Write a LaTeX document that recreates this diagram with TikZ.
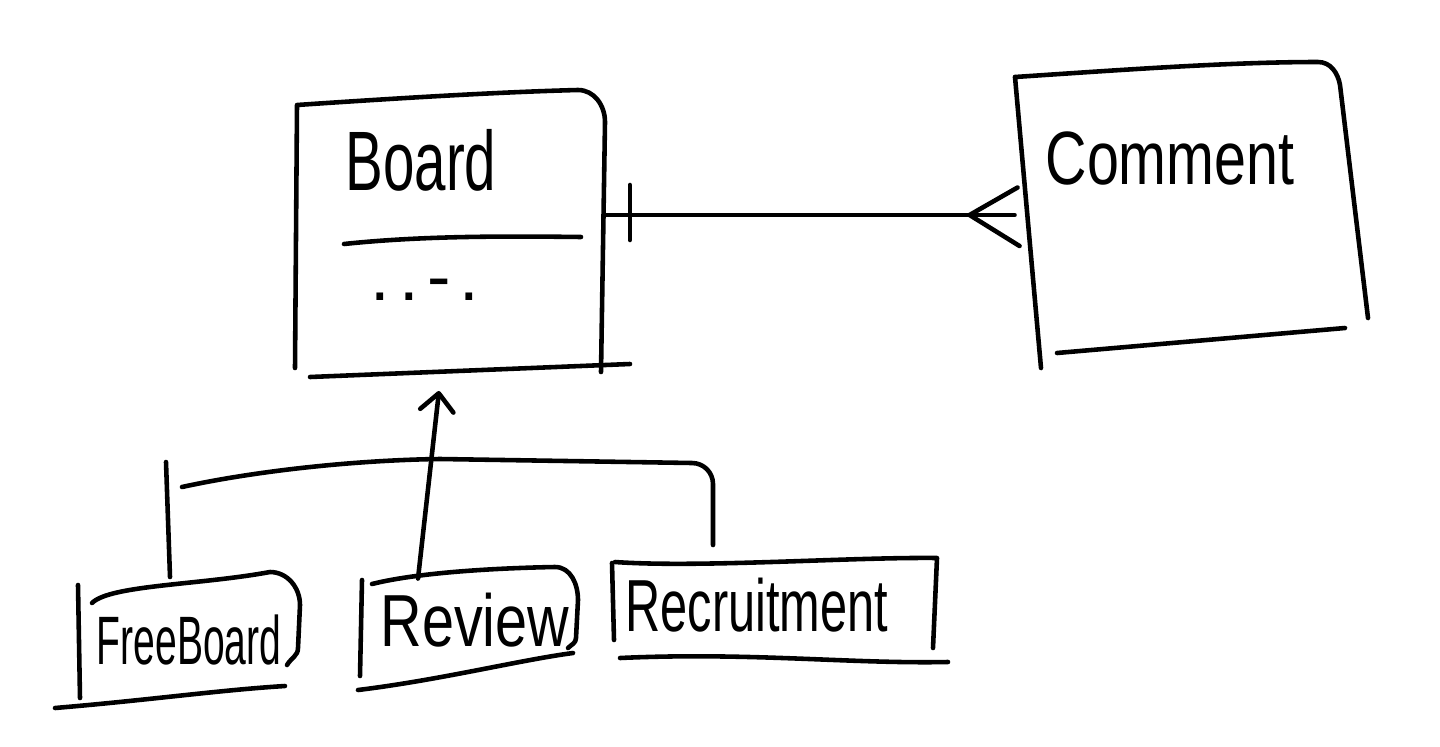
\documentclass[tikz,border=0pt]{standalone}
\usepackage{fontspec}
\usepackage{graphicx}
\setmainfont{Liberation Sans}
\usetikzlibrary{arrows.meta}
\begin{document}
\begin{tikzpicture}[x=0.02cm,y=-0.02cm,
  ink/.style={line width=2.6pt,line cap=round,line join=round},
  box/.style={inner sep=0pt,outer sep=0pt,draw=none},
  lbl/.style={inner sep=0pt,outer sep=0pt}]
\useasboundingbox[fill=white] (0,0) rectangle (1440,747);

% ---------- box nodes (outlines drawn as sketch strokes) ----------
\node[box,minimum width=6.16cm,minimum height=5.6cm] (board) at (451,232) {};
\node[box,minimum width=7.06cm,minimum height=6.12cm] (comment) at (1191,215) {};
\node[box,minimum width=4.44cm,minimum height=2.6cm] (freeboard) at (189,635) {};
\node[box,minimum width=4.36cm,minimum height=2.5cm] (review) at (469,628) {};
\node[box,minimum width=6.5cm,minimum height=2.08cm] (recruit) at (775,610) {};

% ---------- labels ----------
\node[lbl] (boardlbl) at (421,160) {\fontsize{48}{56}\selectfont\scalebox{0.67}[1]{Board}};
\node[lbl] (boardattr) at (425,290) {\fontsize{40}{48}\selectfont .\hspace{5pt}.\hspace{5pt}{-}\hspace{5pt}.};
\node[lbl] (commentlbl) at (1170,158) {\fontsize{43}{50}\selectfont\scalebox{0.76}[1]{Comment}};
\node[lbl] (freelbl) at (189,640) {\fontsize{39}{46}\selectfont\scalebox{0.57}[1]{FreeBoard}};
\node[lbl] (reviewlbl) at (475,620) {\fontsize{42}{50}\selectfont\scalebox{0.78}[1]{Review}};
\node[lbl] (recruitlbl) at (757,605) {\fontsize{42}{50}\selectfont\scalebox{0.66}[1]{Recruitment}};

% ---------- Board outline ----------
\draw[ink] (295,368) -- (297,105) .. controls (400,98) and (500,92) .. (578,90)
  to[out=0,in=90] (605,122) -- (601,372);
\draw[ink] (310,377) -- (630,364);
\draw[ink] (344,244) .. controls (420,236) and (500,236) .. (581,237);

% ---------- Comment outline ----------
\draw[ink] (1015,77) -- (1041,368);
\draw[ink] (1015,77) .. controls (1120,70) and (1230,62) .. (1318,62)
  to[out=0,in=100] (1340,85) -- (1368,318);
\draw[ink] (1057,353) -- (1345,328);

% ---------- FreeBoard outline ----------
\draw[ink] (78,585) -- (80,698);
\draw[ink] (92,603) .. controls (110,585) and (200,585) .. (270,572)
  to[out=0,in=90] (300,605) -- (298,648) to[out=-90,in=60] (287,665);
\draw[ink] (55,708) .. controls (150,700) and (220,690) .. (285,686);

% ---------- Review outline ----------
\draw[ink] (362,580) -- (360,676);
\draw[ink] (372,584) .. controls (420,572) and (500,568) .. (555,567)
  to[out=0,in=90] (578,600) -- (576,638) to[out=-90,in=45] (568,648);
\draw[ink] (358,690) .. controls (440,680) and (520,660) .. (573,653);

% ---------- Recruitment outline ----------
\draw[ink] (612,563) -- (614,640);
\draw[ink] (615,562) .. controls (700,568) and (850,557) .. (937,558) -- (933,648);
\draw[ink] (620,658) .. controls (750,652) and (850,664) .. (948,662);

% ---------- association Board 1 -- * Comment ----------
\draw[ink] (board.east |- comment.west) -- (comment.west);
\draw[ink] ([xshift=0.5cm,yshift=0.6cm]board.east |- comment.west) -- ++(0,55);
\coordinate (crow) at ([xshift=-0.9cm]comment.west);
\draw[ink] ([xshift=0.06cm,yshift=0.55cm]comment.west) -- (crow)
  -- ([xshift=0.1cm,yshift=-0.62cm]comment.west);

% ---------- generalisation ----------
\draw[ink,-{Straight Barb[length=10pt,width=19pt,round]}]
  ([xshift=-1.02cm,yshift=-0.26cm]review.north) -- ([xshift=-0.24cm,yshift=-0.38cm]board.south);
\draw[ink] ([xshift=-0.38cm,yshift=-0.14cm]freeboard.north) -- ++(-4,-115);
\coordinate (hleft) at (182,487);
\draw[ink] ([xshift=-1.24cm,yshift=0.26cm]recruit.north) -- (713,484)
  to[out=90,in=0] (692,463) -- (440,459)
  .. controls (360,460) and (260,470) .. (hleft);
\end{tikzpicture}
\end{document}
